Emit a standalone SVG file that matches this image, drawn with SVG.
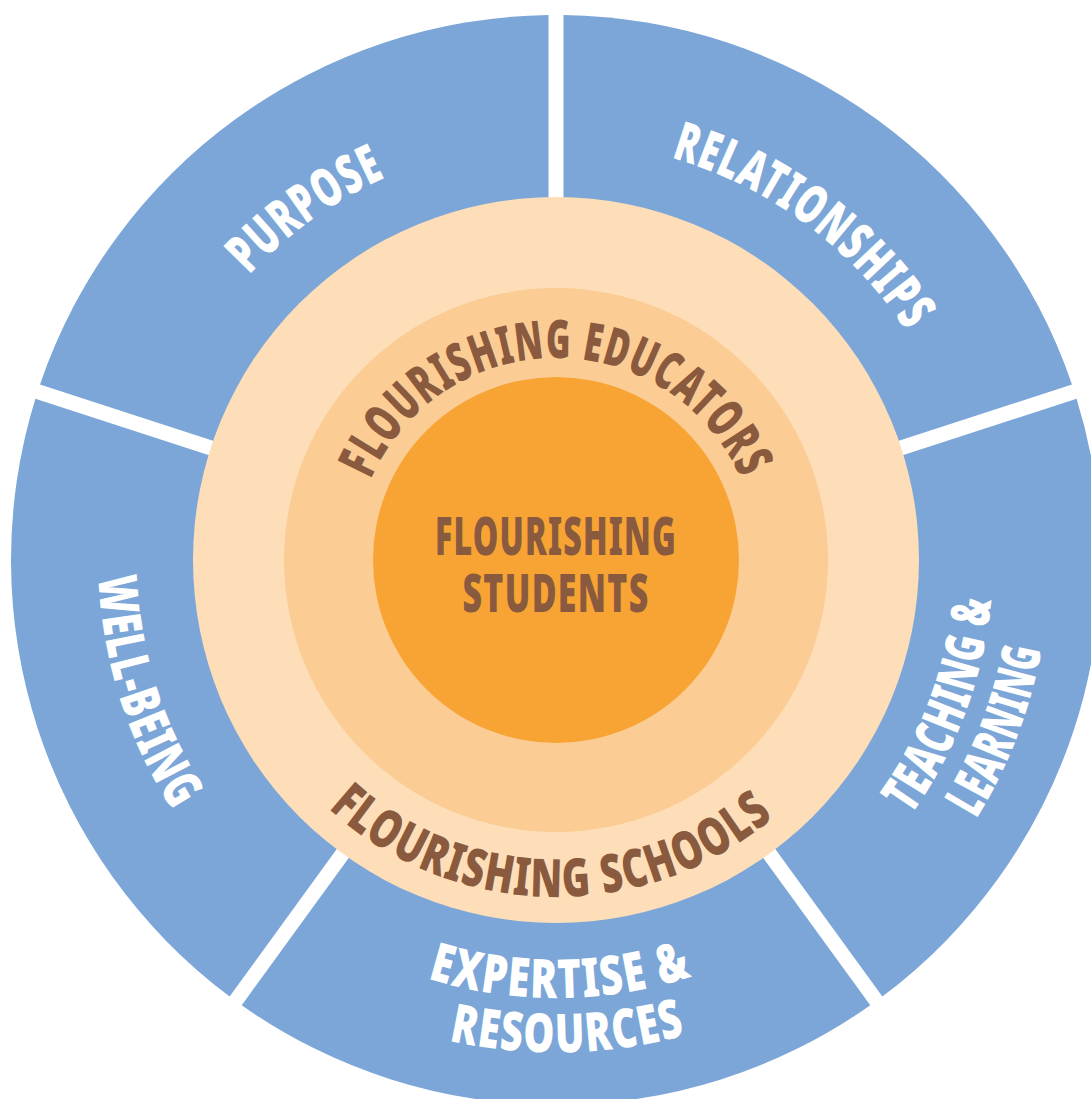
<svg xmlns="http://www.w3.org/2000/svg" width="1091" height="1099" viewBox="0 0 1091 1099">
  <style>
    .seg { fill: #7BA6D7; }
    .ring1 { fill: #FDDEB9; }
    .ring2 { fill: #FCCC95; }
    .core { fill: #F8A435; }
    .lbl, .brn { font-family: "Noto Sans", "Liberation Sans Narrow", "Liberation Sans", sans-serif; font-weight: 900; font-stretch: 62.5%; letter-spacing: 2px; }
    .lbl { fill: #FFFFFF; font-size: 54px; }
    .brn { fill: #8A5A3E; font-size: 53px; }
  </style>
  <defs>
    <!-- baseline arcs, all centred on (556,560) -->
    <path id="arc-educators" d="M354,560 A202,202 0 0 1 758,560"/>
    <path id="arc-schools" d="M219.05,554.12 A337,337 0 0 0 892.95,565.88"/>
    <path id="arc-purpose" d="M214.07,803.89 A420,420 0 0 1 897.93,316.11"/>
    <path id="arc-relationships" d="M218.38,310.18 A420,420 0 0 1 893.62,809.82"/>
    <path id="arc-wellbeing" d="M416.15,121.78 A460,460 0 0 0 695.85,998.22"/>
    <path id="arc-teaching" d="M403.33,970.53 A438,438 0 0 0 708.67,149.47"/>
    <path id="arc-learning" d="M378.97,1021.19 A494,494 0 0 0 733.03,98.81"/>
    <path id="arc-expertise" d="M118.02,564.59 A438,438 0 0 0 993.98,555.41"/>
    <path id="arc-resources" d="M62.15,572.07 A494,494 0 0 0 1049.85,547.93"/>
  </defs>

  <rect width="1091" height="1099" fill="#FFFFFF"/>

  <!-- outer ring: five segments separated by 15px gaps -->
  <g id="seg-relationships">
    <path class="seg" d="M563.50,549.68 L563.50,15.05 A545,545 0 0 1 1071.97,384.49 Z"/>
  </g>
  <g id="seg-teaching">
    <path class="seg" d="M568.14,563.94 L1076.59,398.74 A545,545 0 0 1 882.37,996.47 Z"/>
  </g>
  <g id="seg-expertise">
    <path class="seg" d="M556,572.76 L870.29,1005.25 A545,545 0 0 1 241.71,1005.25 Z"/>
  </g>
  <g id="seg-wellbeing">
    <path class="seg" d="M543.86,563.94 L229.63,996.47 A545,545 0 0 1 35.41,398.74 Z"/>
  </g>
  <g id="seg-purpose">
    <path class="seg" d="M548.50,549.68 L40.03,384.49 A545,545 0 0 1 548.50,15.05 Z"/>
  </g>

  <!-- concentric inner circles -->
  <g id="schools">
    <circle class="ring1" cx="556" cy="560" r="363"/>
  </g>
  <g id="educators">
    <circle class="ring2" cx="556" cy="560" r="272"/>
  </g>
  <g id="students">
    <circle class="core" cx="556" cy="560" r="183"/>
    <text class="brn" x="556" y="555" text-anchor="middle" textLength="242" lengthAdjust="spacingAndGlyphs">FLOURISHING</text>
    <text class="brn" x="556" y="612" text-anchor="middle" textLength="187" lengthAdjust="spacingAndGlyphs">STUDENTS</text>
  </g>

  <!-- curved labels -->
  <g id="labels">
    <text class="brn" text-anchor="middle"><textPath href="#arc-educators" startOffset="50%" textLength="469" lengthAdjust="spacingAndGlyphs">FLOURISHING EDUCATORS</textPath></text>
    <text class="brn" text-anchor="middle"><textPath href="#arc-schools" startOffset="50%" textLength="488" lengthAdjust="spacingAndGlyphs">FLOURISHING SCHOOLS</textPath></text>
    <text class="lbl" text-anchor="middle"><textPath href="#arc-purpose" startOffset="50%" textLength="170" lengthAdjust="spacingAndGlyphs">PURPOSE</textPath></text>
    <text class="lbl" text-anchor="middle"><textPath href="#arc-relationships" startOffset="50%" textLength="300" lengthAdjust="spacingAndGlyphs">RELATIONSHIPS</textPath></text>
    <text class="lbl" text-anchor="middle"><textPath href="#arc-wellbeing" startOffset="50%" textLength="250" lengthAdjust="spacingAndGlyphs">WELL-BEING</textPath></text>
    <text class="lbl" text-anchor="middle"><textPath href="#arc-teaching" startOffset="50%" textLength="234" lengthAdjust="spacingAndGlyphs">TEACHING &amp;</textPath></text>
    <text class="lbl" text-anchor="middle"><textPath href="#arc-learning" startOffset="50%" textLength="184" lengthAdjust="spacingAndGlyphs">LEARNING</textPath></text>
    <text class="lbl" text-anchor="middle"><textPath href="#arc-expertise" startOffset="50%" textLength="270" lengthAdjust="spacingAndGlyphs">EXPERTISE &amp;</textPath></text>
    <text class="lbl" text-anchor="middle"><textPath href="#arc-resources" startOffset="50%" textLength="240" lengthAdjust="spacingAndGlyphs">RESOURCES</textPath></text>
  </g>

  <g id="connectors"/>
</svg>
